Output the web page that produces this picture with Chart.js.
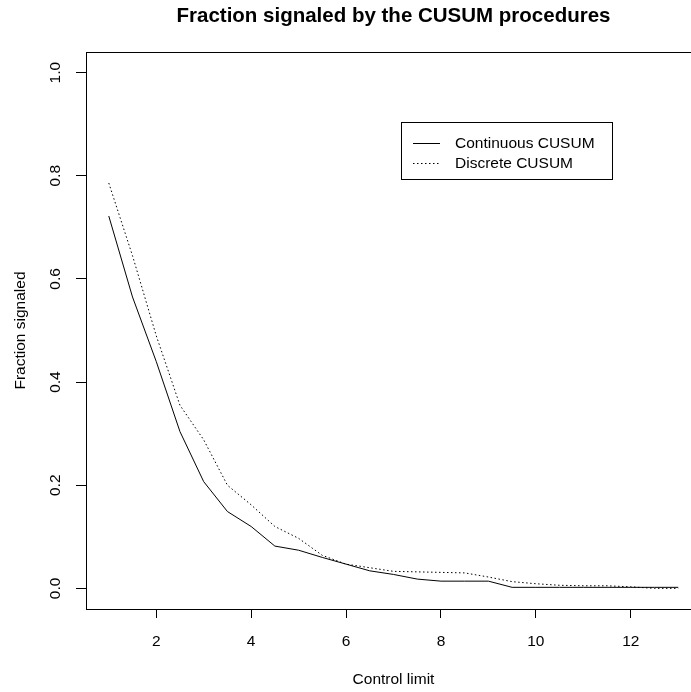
<!DOCTYPE html>
<html><head><meta charset="utf-8">
<script src="https://cdn.jsdelivr.net/npm/chart.js@4"></script>
<style>
html,body{margin:0;padding:0;overflow:hidden;background:#fff;}
#wrap{position:relative;width:720px;height:692px;}
</style></head><body>
<div id="wrap"><canvas id="c" width="720" height="692"></canvas></div>
<script>
const controlLimits = [1,1.5,2,2.5,3,3.5,4,4.5,5,5.5,6,6.5,7,7.5,8,8.5,9,9.5,10,10.5,11,11.5,12,12.5,13];
const continuousCusum = [0.722,0.565,0.440,0.304,0.207,0.149,0.120,0.082,0.074,0.060,0.047,0.034,0.027,0.018,0.014,0.014,0.014,0.002,0.002,0.002,0.002,0.002,0.002,0.002,0.002];
const discreteCusum = [0.786,0.645,0.490,0.355,0.288,0.200,0.162,0.120,0.097,0.064,0.047,0.040,0.033,0.032,0.031,0.030,0.022,0.013,0.009,0.006,0.005,0.005,0.003,0.000,0.000];
const xTickValues = [2,4,6,8,10,12];
const yTickValues = [0,0.2,0.4,0.6,0.8,1.0];
const seriesNames = ['Continuous CUSUM','Discrete CUSUM'];
const chartTitle = 'Fraction signaled by the CUSUM procedures';
const xAxisTitle = 'Control limit';
const yAxisTitle = 'Fraction signaled';

const FONT = '"Liberation Sans", Arial, sans-serif';

const boxPlugin = {
  id: 'rbox',
  afterDraw(chart) {
    const ctx = chart.ctx, a = chart.chartArea;
    ctx.save();
    ctx.strokeStyle = '#000';
    ctx.lineWidth = 1;
    ctx.strokeRect(Math.round(a.left) + 0.5, Math.round(a.top) + 0.5,
                   Math.round(a.right - a.left), Math.round(a.bottom - a.top));
    // title centred over plot region
    ctx.fillStyle = '#000';
    ctx.font = 'bold 20.5px ' + FONT;
    ctx.textAlign = 'center';
    ctx.textBaseline = 'alphabetic';
    ctx.fillText(chartTitle, (a.left + a.right) / 2, 22);
    // legend
    const lx = 401.5, ly = 122.5, lw = 211, lh = 57;
    ctx.strokeRect(lx, ly, lw, lh);
    ctx.font = '15.5px ' + FONT;
    ctx.textAlign = 'left';
    ctx.textBaseline = 'middle';
    chart.data.datasets.forEach((ds, i) => {
      const y = 143.5 + i * 20;
      ctx.beginPath();
      ctx.setLineDash(ds.borderDash || []);
      ctx.strokeStyle = ds.borderColor;
      ctx.lineWidth = ds.borderWidth;
      ctx.moveTo(413, y);
      ctx.lineTo(440, y);
      ctx.stroke();
      ctx.setLineDash([]);
      ctx.fillText(ds.label, 455, y + 0.5);
    });
    ctx.restore();
  }
};

new Chart(document.getElementById('c'), {
  type: 'line',
  data: {
    datasets: [
      {
        label: seriesNames[0],
        data: controlLimits.map((x, i) => ({x, y: continuousCusum[i]})),
        borderColor: '#000', borderWidth: 1, pointRadius: 0, tension: 0, fill: false
      },
      {
        label: seriesNames[1],
        data: controlLimits.map((x, i) => ({x, y: discreteCusum[i]})),
        borderColor: '#000', borderWidth: 1, borderDash: [1.5, 2.5], pointRadius: 0, tension: 0, fill: false
      }
    ]
  },
  options: {
    responsive: false,
    animation: false,
    devicePixelRatio: 1,
    layout: { padding: { top: 52, right: 19, left: 0, bottom: 0 } },
    plugins: { legend: { display: false }, tooltip: { enabled: false }, title: { display: false } },
    scales: {
      x: {
        type: 'linear',
        min: 0.52, max: 13.48,
        afterBuildTicks: s => { s.ticks = xTickValues.map(v => ({value: v})); },
        afterFit: s => { s.height = 83; },
        grid: { display: true, drawOnChartArea: false, drawTicks: true, tickLength: 9, color: '#000', lineWidth: 1 },
        border: { display: true, color: '#000', width: 1 },
        ticks: { color: '#000', font: { family: FONT, size: 15.5 }, padding: 14, maxRotation: 0, autoSkip: false },
        title: { display: true, text: xAxisTitle, color: '#000', font: { family: FONT, size: 15.5 }, padding: { top: 0, bottom: 2.7 } }
      },
      y: {
        type: 'linear',
        min: -0.04, max: 1.04,
        afterBuildTicks: s => { s.ticks = yTickValues.map(v => ({value: v})); },
        afterFit: s => { s.width = 86; },
        grid: { display: true, drawOnChartArea: false, drawTicks: true, tickLength: 10, color: '#000', lineWidth: 1 },
        border: { display: true, color: '#000', width: 1 },
        ticks: { color: '#000', font: { family: FONT, size: 15.5 }, padding: 10, minRotation: 90, maxRotation: 90, crossAlign: 'center',
                 autoSkip: false, callback: v => Number(v).toFixed(1) },
        title: { display: true, text: yAxisTitle, color: '#000', font: { family: FONT, size: 15.5 }, padding: { top: 11.7, bottom: 0 } }
      }
    }
  },
  plugins: [boxPlugin]
});
</script>
</body></html>
